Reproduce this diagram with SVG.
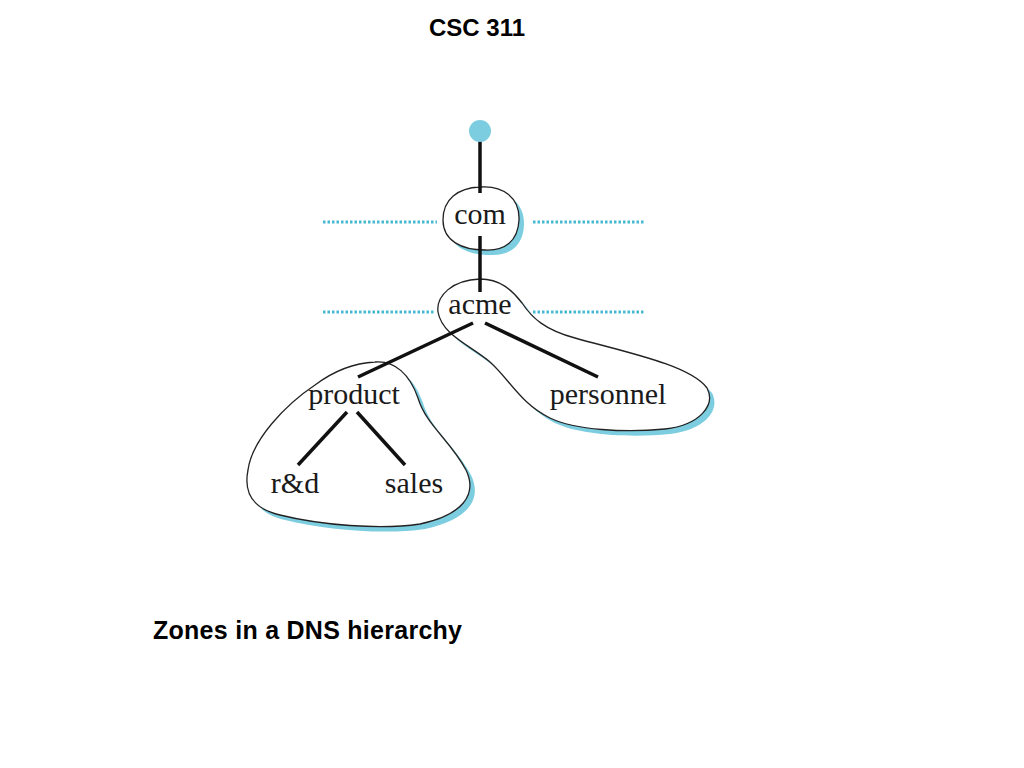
<svg xmlns="http://www.w3.org/2000/svg" width="1024" height="768" viewBox="0 0 1024 768">
<style>
.title{font-family:"Liberation Sans",Arial,sans-serif;font-weight:bold;fill:#000}
.lbl{font-family:"Liberation Serif","Times New Roman",serif;font-size:30px;fill:#1a1a1a;text-anchor:middle}
.zone{fill:#fff;stroke:#222;stroke-width:1.3}
.shadow{fill:#7ccde0}
.edge{stroke:#111;stroke-width:3.5;stroke-linecap:butt;fill:none}
.dots{stroke:#45b8d2;stroke-width:3;stroke-dasharray:2.5 2;fill:none}
</style>
<rect width="1024" height="768" fill="#fff"/>
<text class="title" x="477" y="36" font-size="24" text-anchor="middle">CSC 311</text>

<g id="dotted-lines">
<line class="dots" x1="323" y1="222" x2="437" y2="222"/>
<line class="dots" x1="533" y1="222" x2="645" y2="222"/>
<line class="dots" x1="323" y1="312" x2="435" y2="312"/>
<line class="dots" x1="533" y1="312" x2="645" y2="312"/>
</g>

<g id="zone-acme">
<path class="shadow" transform="translate(5,5)" d="M438,312 C436,296 452,280 480,279 C500,279 512,290 522,303 C532,318 545,330 575,338 C625,352 690,365 707,388 C716,405 700,425 665,429 C625,433 575,430 550,418 C520,403 510,380 490,362 C470,345 442,335 438,312 Z"/>
<path class="zone" d="M438,312 C436,296 452,280 480,279 C500,279 512,290 522,303 C532,318 545,330 575,338 C625,352 690,365 707,388 C716,405 700,425 665,429 C625,433 575,430 550,418 C520,403 510,380 490,362 C470,345 442,335 438,312 Z"/>
</g>

<g id="zone-product">
<path class="shadow" transform="translate(5,5)" d="M375,362 C395,360 410,375 418,398 C426,425 450,440 466,470 C478,495 462,515 420,524 C380,530 320,525 280,515 C250,508 244,490 248,470 C252,440 285,405 315,385 C335,370 355,363 375,362 Z"/>
<path class="zone" d="M375,362 C395,360 410,375 418,398 C426,425 450,440 466,470 C478,495 462,515 420,524 C380,530 320,525 280,515 C250,508 244,490 248,470 C252,440 285,405 315,385 C335,370 355,363 375,362 Z"/>
</g>

<g id="zone-com">
<path class="shadow" transform="translate(5,5)" d="M480,187 C503,185 520,198 519,220 C518,241 505,251 485,250 C462,250 443,241 443,220 C443,199 458,188 480,187 Z"/>
<path class="zone" d="M480,187 C503,185 520,198 519,220 C518,241 505,251 485,250 C462,250 443,241 443,220 C443,199 458,188 480,187 Z"/>
</g>

<g id="connectors">
<line class="edge" x1="480" y1="140" x2="480" y2="193"/>
<line class="edge" x1="480" y1="236" x2="480" y2="292"/>
<line class="edge" x1="473" y1="323" x2="358" y2="377"/>
<line class="edge" x1="485" y1="323" x2="598" y2="377"/>
<line class="edge" x1="347" y1="412" x2="298" y2="465"/>
<line class="edge" x1="357" y1="412" x2="405" y2="465"/>
</g>

<g id="node-root"><circle cx="480" cy="131" r="11" fill="#7dcde0"/></g>
<g id="node-com"><text class="lbl" x="480" y="224">com</text></g>
<g id="node-acme"><text class="lbl" x="480" y="314">acme</text></g>
<g id="node-product"><text class="lbl" x="354" y="404">product</text></g>
<g id="node-personnel"><text class="lbl" x="608" y="404">personnel</text></g>
<g id="node-rd"><text class="lbl" x="295" y="493">r&amp;d</text></g>
<g id="node-sales"><text class="lbl" x="414" y="493">sales</text></g>

<text class="title" x="153" y="639" font-size="25" textLength="309">Zones in a DNS hierarchy</text>
</svg>
